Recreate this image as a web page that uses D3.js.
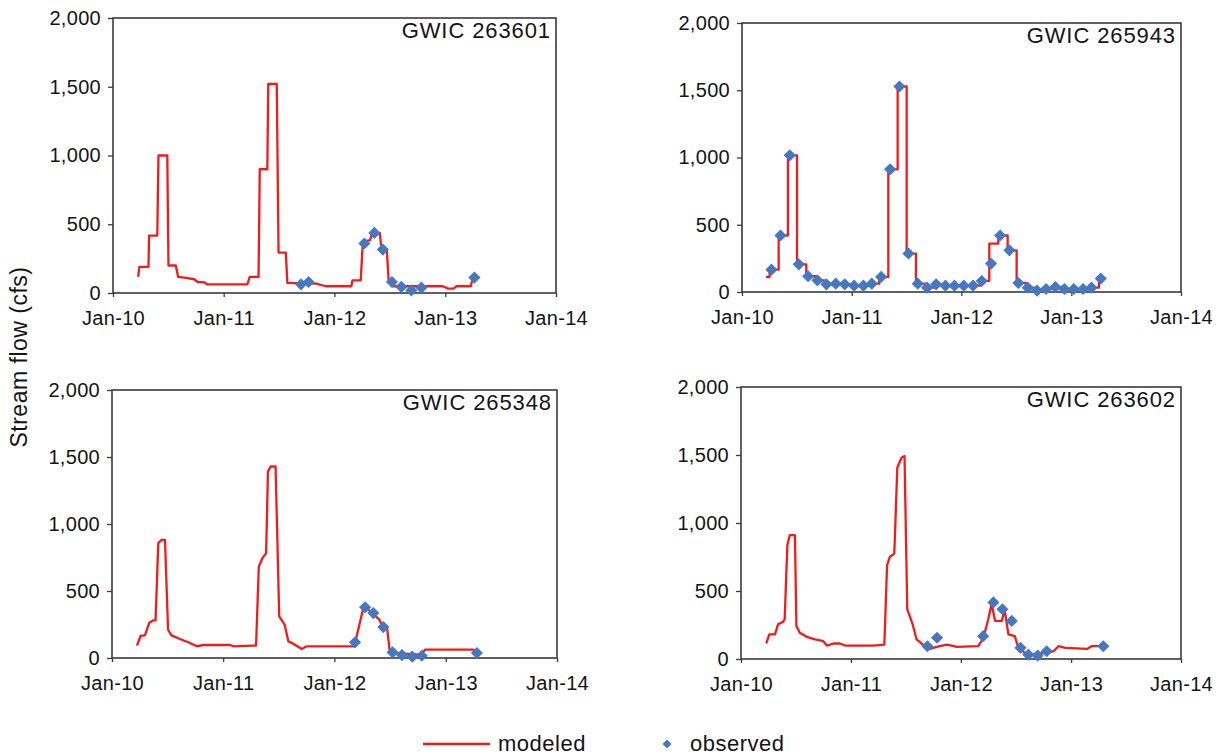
<!DOCTYPE html>
<html>
<head>
<meta charset="utf-8">
<script src="https://cdn.jsdelivr.net/npm/d3@7"></script>
<style>
body { margin: 0; background: #fff; }
svg text { font-family: "Liberation Sans", Arial, sans-serif; fill: #141414; }
</style>
</head>
<body>
<script>
// ---- data ----
var yTicks = [0, 500, 1000, 1500, 2000];
var xTicks = ["2010-01-01", "2011-01-01", "2012-01-01", "2013-01-01", "2014-01-01"];
var wellNames = ["GWIC 263601", "GWIC 265943", "GWIC 265348", "GWIC 263602"];
var legendLabels = ["modeled", "observed"];
var yLabel = "Stream flow (cfs)";

var modeled263601 = [["2010-03-25",117],["2010-03-29",190],["2010-04-28",190],["2010-04-30",418],["2010-05-27",418],["2010-05-31",1000],["2010-06-29",1000],["2010-07-03",200],["2010-07-27",200],["2010-08-04",117],["2010-08-29",110],["2010-09-26",100],["2010-10-07",80],["2010-10-29",78],["2010-11-07",63],["2011-03-20",63],["2011-03-28",117],["2011-04-26",117],["2011-04-30",900],["2011-05-25",900],["2011-05-28",1520],["2011-06-25",1520],["2011-07-01",294],["2011-07-25",294],["2011-07-30",73],["2011-11-02",68],["2011-12-03",49],["2012-02-26",49],["2012-03-01",92],["2012-03-28",92],["2012-04-04",372],["2012-04-28",384],["2012-05-04",437],["2012-05-30",437],["2012-06-04",323],["2012-06-22",316],["2012-06-28",92],["2012-07-12",49],["2012-12-24",49],["2013-01-10",32],["2013-01-28",32],["2013-02-06",49],["2013-03-26",49],["2013-04-01",104]];
var observed263601 = [["2011-09-13",63],["2011-10-08",80],["2012-04-09",360],["2012-05-12",437],["2012-06-09",316],["2012-07-09",80],["2012-08-09",44],["2012-09-11",19],["2012-10-14",39],["2013-04-07",112]];

// monthly step values (curveStepAfter)
var modeled265943 = [["2010-03-22",112],["2010-04-03",166],["2010-05-03",420],["2010-06-03",1016],["2010-07-03",206],["2010-08-03",117],["2010-09-03",87],["2010-10-03",57],["2010-11-03",62],["2010-12-03",57],["2011-01-03",47],["2011-02-03",47],["2011-03-03",62],["2011-04-03",112],["2011-05-03",912],["2011-06-03",1528],["2011-07-03",286],["2011-08-03",62],["2011-09-03",32],["2011-10-03",57],["2011-11-03",47],["2011-12-03",47],["2012-01-03",47],["2012-02-03",47],["2012-03-03",82],["2012-04-03",360],["2012-05-03",420],["2012-06-03",310],["2012-07-03",67],["2012-08-03",32],["2012-09-03",10],["2012-10-03",22],["2012-11-03",37],["2012-12-03",22],["2013-01-03",22],["2013-02-03",22],["2013-03-03",32],["2013-04-03",100],["2013-04-09",100]];
var observed265943 = [["2010-04-09",166],["2010-05-09",420],["2010-06-09",1016],["2010-07-09",206],["2010-08-09",117],["2010-09-09",87],["2010-10-09",57],["2010-11-09",62],["2010-12-09",57],["2011-01-09",47],["2011-02-09",47],["2011-03-09",62],["2011-04-09",112],["2011-05-09",912],["2011-06-09",1528],["2011-07-09",286],["2011-08-09",62],["2011-09-09",32],["2011-10-09",57],["2011-11-09",47],["2011-12-09",47],["2012-01-09",47],["2012-02-09",47],["2012-03-09",82],["2012-04-09",211],["2012-05-09",420],["2012-06-09",310],["2012-07-09",67],["2012-08-09",32],["2012-09-09",10],["2012-10-09",22],["2012-11-09",37],["2012-12-09",22],["2013-01-09",22],["2013-02-09",22],["2013-03-09",32],["2013-04-09",100]];

var modeled265348 = [["2010-03-24",92],["2010-04-05",166],["2010-04-19",169],["2010-05-03",261],["2010-05-16",281],["2010-05-24",281],["2010-06-02",857],["2010-06-13",882],["2010-06-24",882],["2010-07-04",211],["2010-07-15",169],["2010-08-12",142],["2010-09-14",112],["2010-10-06",87],["2010-10-28",97],["2011-01-24",97],["2011-02-04",87],["2011-04-10",92],["2011-04-19",92],["2011-04-28",683],["2011-05-10",745],["2011-05-22",783],["2011-05-28",1391],["2011-06-06",1429],["2011-06-22",1429],["2011-07-04",311],["2011-07-22",248],["2011-08-03",124],["2011-08-19",107],["2011-09-16",67],["2011-10-02",87],["2012-03-03",87],["2012-03-09",112],["2012-04-06",380],["2012-04-22",360],["2012-05-10",323],["2012-05-28",286],["2012-06-07",236],["2012-06-22",224],["2012-07-01",50],["2012-07-24",37],["2012-10-10",25],["2012-10-25",62],["2013-04-02",62],["2013-04-13",37]];
var observed265348 = [["2012-03-09",117],["2012-04-11",378],["2012-05-08",335],["2012-06-10",231],["2012-07-10",42],["2012-08-10",22],["2012-09-13",10],["2012-10-14",17],["2013-04-13",37]];

var modeled263602 = [["2010-03-26",114],["2010-04-05",181],["2010-04-24",181],["2010-05-04",255],["2010-05-20",272],["2010-05-26",292],["2010-06-04",837],["2010-06-12",911],["2010-06-29",911],["2010-07-04",243],["2010-07-15",193],["2010-08-07",163],["2010-09-04",144],["2010-10-01",131],["2010-10-13",99],["2010-11-04",114],["2010-11-25",114],["2010-12-13",99],["2011-03-16",99],["2011-04-22",106],["2011-05-01",688],["2011-05-10",750],["2011-05-25",775],["2011-06-04",1406],["2011-06-18",1480],["2011-06-28",1493],["2011-07-07",366],["2011-07-25",255],["2011-08-07",144],["2011-08-23",114],["2011-09-20",74],["2011-10-13",89],["2011-11-16",106],["2011-12-19",89],["2012-02-28",94],["2012-03-16",156],["2012-04-01",292],["2012-04-12",405],["2012-04-24",280],["2012-05-16",280],["2012-05-25",366],["2012-06-07",181],["2012-06-28",168],["2012-07-10",82],["2012-08-01",45],["2012-08-28",32],["2012-10-01",45],["2012-11-04",57],["2012-11-20",94],["2012-12-13",82],["2013-02-23",74],["2013-03-10",94],["2013-04-18",94]];
var observed263602 = [["2011-09-12",94],["2011-10-14",156],["2012-03-15",168],["2012-04-18",416],["2012-05-18",366],["2012-06-18",280],["2012-07-17",82],["2012-08-12",32],["2012-09-12",25],["2012-10-12",57],["2013-04-18",94]];

// ---- layout ----
var width = 1225, height = 755;
var lineColor = "#f01c1c", dotColor = "#4677c1", frameColor = "#3a3a3a";
var parse = d3.timeParse("%Y-%m-%d");

var panels = [
  {name: wellNames[0], modeled: modeled263601, observed: observed263601, curve: d3.curveLinear, x0: 113, x1: 556, y0: 18, y1: 293},
  {name: wellNames[1], modeled: modeled265943, observed: observed265943, curve: d3.curveStepAfter, x0: 742, x1: 1181, y0: 23, y1: 292},
  {name: wellNames[2], modeled: modeled265348, observed: observed265348, curve: d3.curveLinear, x0: 112, x1: 557, y0: 390, y1: 658},
  {name: wellNames[3], modeled: modeled263602, observed: observed263602, curve: d3.curveLinear, x0: 741, x1: 1181, y0: 387, y1: 659}
];

var svg = d3.select("body").append("svg")
    .attr("width", width)
    .attr("height", height);

var diamond = d3.symbol().type(d3.symbolSquare);

panels.forEach(function(p){
    var x = d3.scaleTime()
        .domain([parse(xTicks[0]), parse(xTicks[xTicks.length - 1])])
        .range([p.x0, p.x1]);
    var y = d3.scaleLinear()
        .domain([0, 2000])
        .range([p.y1, p.y0]);

    var g = svg.append("g");

    // y axis
    var ya = g.append("g")
        .attr("transform", "translate(" + p.x0 + ",0)")
        .call(d3.axisLeft(y).tickValues(yTicks).tickSize(5).tickPadding(7).tickFormat(d3.format(",")));
    ya.select(".domain").remove();

    // x axis
    var xa = g.append("g")
        .attr("transform", "translate(0," + p.y1 + ")")
        .call(d3.axisBottom(x).tickValues(xTicks.map(parse)).tickSize(4).tickPadding(14).tickFormat(d3.timeFormat("%b-%y")));
    xa.select(".domain").remove();

    [ya, xa].forEach(function(a){
        a.attr("font-family", null).attr("font-size", null);
        a.selectAll("line").attr("stroke", frameColor).attr("stroke-width", 1.3);
        a.selectAll("text")
            .style("font-size", "20px")
            .style("letter-spacing", "0.3px")
            .attr("fill", "#141414");
    });

    // frame
    g.append("rect")
        .attr("x", p.x0)
        .attr("y", p.y0)
        .attr("width", p.x1 - p.x0)
        .attr("height", p.y1 - p.y0)
        .attr("fill", "none")
        .attr("stroke", frameColor)
        .attr("stroke-width", 1.6);

    // modeled line
    var line = d3.line()
        .curve(p.curve)
        .x(function(d){ return x(parse(d[0])); })
        .y(function(d){ return y(d[1]); });

    g.append("path")
        .datum(p.modeled)
        .attr("d", line)
        .attr("fill", "none")
        .attr("stroke", lineColor)
        .attr("stroke-width", 2.3)
        .attr("stroke-linejoin", "round");

    // observed diamonds
    g.selectAll(".obs")
        .data(p.observed)
        .enter()
        .append("path")
        .attr("class", "obs")
        .attr("d", diamond.size(74))
        .attr("transform", function(d){
            return "translate(" + x(parse(d[0])) + "," + y(d[1]) + ") rotate(45)";
        })
        .attr("fill", dotColor);

    // well label
    g.append("text")
        .attr("x", p.x1 - 5)
        .attr("y", p.y0 + 20)
        .attr("text-anchor", "end")
        .style("font-size", "22px")
        .style("letter-spacing", "0.9px")
        .text(p.name);
});

// y axis title
svg.append("text")
    .attr("transform", "translate(27,357) rotate(-90)")
    .attr("text-anchor", "middle")
    .style("font-size", "23px")
    .style("letter-spacing", "0.5px")
    .text(yLabel);

// legend
var legend = svg.append("g");
legend.append("line")
    .attr("x1", 423).attr("x2", 490)
    .attr("y1", 744).attr("y2", 744)
    .attr("stroke", lineColor)
    .attr("stroke-width", 2.3);
legend.append("text")
    .attr("x", 498).attr("y", 751)
    .style("font-size", "22px")
    .style("letter-spacing", "0.5px")
    .text(legendLabels[0]);
legend.append("path")
    .attr("d", diamond.size(40))
    .attr("transform", "translate(667,744) rotate(45)")
    .attr("fill", dotColor);
legend.append("text")
    .attr("x", 690).attr("y", 751)
    .style("font-size", "22px")
    .style("letter-spacing", "0.5px")
    .text(legendLabels[1]);
</script>
</body>
</html>
